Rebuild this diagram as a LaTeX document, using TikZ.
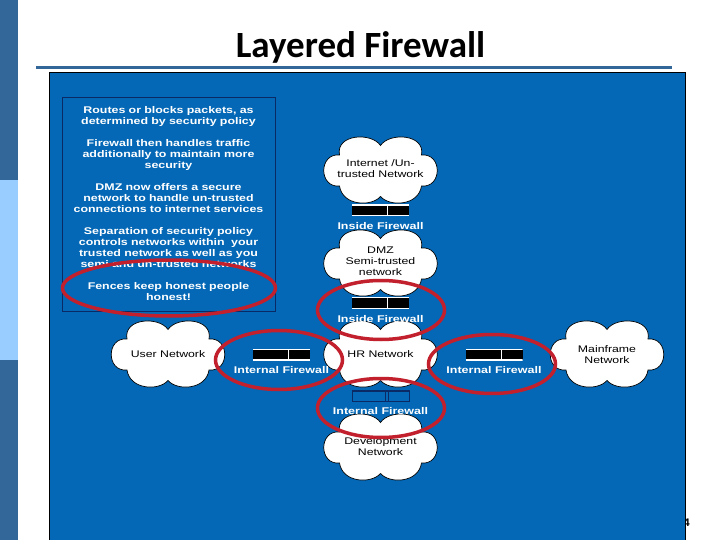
\documentclass[tikz,border=0pt]{standalone}
\usepackage{fontspec}
\setmainfont{Liberation Sans}
\newfontfamily\titlefont{Carlito}
\newfontfamily\widefont[FakeStretch=1.28]{Liberation Sans}
\usepackage{xcolor}
\usetikzlibrary{positioning,shapes.geometric}
\definecolor{slideblue}{HTML}{0468B6}
\definecolor{sidedark}{HTML}{336699}
\definecolor{sidelight}{HTML}{99CCFF}
\definecolor{ringred}{HTML}{C2202C}
\definecolor{boxnavy}{HTML}{0A2A66}

\begin{document}
\begin{tikzpicture}[
    x=1pt, y=-1pt,
    node distance=3pt,
    pics/puff/.style={code={
        \draw[black, fill=white, line width=0.7pt] (-41,16)
            .. controls (-62,18) and (-62,-17) .. (-41,-15)
            .. controls (-45,-36) and (-9,-38) .. (0,-24.5)
            .. controls (9,-38) and (45,-36) .. (41,-15)
            .. controls (62,-17) and (62,18) .. (41,16)
            .. controls (38,36) and (9,37) .. (0,26.5)
            .. controls (-9,37) and (-38,36) .. cycle;
    }},
    net/.style={inner sep=0pt, align=center, font=\widefont\fontsize{9.6}{11}\selectfont},
    fwbar/.style={fill=black, minimum width=57pt, minimum height=11pt, inner sep=0pt,
        path picture={\draw[white, line width=1pt] ([xshift=7pt]path picture bounding box.south) -- ([xshift=7pt]path picture bounding box.north);
            \draw[white, line width=1.6pt] (path picture bounding box.north west) -- (path picture bounding box.north east);
            \draw[white, line width=1.6pt] (path picture bounding box.south west) -- (path picture bounding box.south east);}},
    fwopen/.style={draw=boxnavy, line width=0.8pt, fill=slideblue, minimum width=57pt, minimum height=11pt, inner sep=0pt,
        path picture={\draw[boxnavy, line width=0.8pt] ([xshift=5pt]path picture bounding box.south) -- ([xshift=5pt]path picture bounding box.north);
            \draw[boxnavy, line width=0.8pt] ([xshift=8pt]path picture bounding box.south) -- ([xshift=8pt]path picture bounding box.north);
            \draw[boxnavy, line width=2.4pt] (path picture bounding box.north west) -- (path picture bounding box.north east);
            \draw[boxnavy, line width=1.6pt] (path picture bounding box.south west) -- (path picture bounding box.south east);}},
    fwlbl/.style={text=white, font=\widefont\bfseries\fontsize{9.75}{11}\selectfont},
    notes/.style={draw=boxnavy, line width=0.7pt, fill=slideblue, text=white, align=center, text width=208pt, inner sep=0pt,
        minimum width=213pt, minimum height=214pt, font=\widefont\bfseries\fontsize{9.7}{11}\selectfont},
    ring/.style={ellipse, draw=ringred, line width=3.5pt, inner sep=0pt, minimum width=127pt, minimum height=59pt}
]
\useasboundingbox (0,0) rectangle (720,540);
\fill[white] (0,0) rectangle (720,540);

% Side bar
\fill[sidedark] (0,0) rectangle (18,180);
\fill[sidelight] (0,180) rectangle (18,360);
\fill[sidedark] (0,360) rectangle (18,540);

% Title
\node[font=\titlefont\fontsize{37}{40}\selectfont\bfseries] (title) at (360.5,47) {Layered Firewall};
\draw[sidedark, line width=2.6pt] (36,67.5) -- (672,67.5);

% Page number, cut by the panel
\node[font=\fontsize{11}{12}\selectfont\bfseries, anchor=east, inner sep=0pt] (page) at (690,523) {4};

% Panel
\draw[black, fill=slideblue, line width=0.8pt] (49,72) rectangle (685,541);

% Notes
\node[notes] (info) at (168.5,204) {Routes or blocks packets, as\\determined by security policy\\[11pt]
    Firewall then handles traffic\\additionally to maintain more\\security\\[11pt]
    DMZ now offers a secure\\network to handle un-trusted\\connections to internet services\\[11pt]
    Separation of security policy\\controls networks within\ \ your\\trusted network as well as you\\semi and un-trusted networks\\[11pt]
    Fences keep honest people\\honest!};

% Networks
\pic at (380.5,170) {puff};
\node[net] (inet) at (380.5,169) {Internet /Un-\\trusted Network};
\pic at (380.5,263) {puff};
\node[net] (dmz) at (380.5,261) {DMZ\\Semi-trusted\\network};
\pic at (380.5,354) {puff};
\node[net] (hr) at (380.5,354) {HR Network};
\pic at (380.5,447) {puff};
\node[net] (dev) at (380.5,446.5) {Development\\Network};
\pic at (168,354) {puff};
\node[net] (user) at (168,354) {User Network};
\pic at (607,354) {puff};
\node[net] (main) at (607,354.5) {Mainframe\\Network};

% Firewalls
\node[fwbar] (fwa) at (380.5,210.5) {};
\node[fwlbl, below=3pt of fwa] (fwatxt) {Inside Firewall};
\node[fwbar] (fwb) at (380.5,303) {};
\node[fwlbl, below=3pt of fwb] (fwbtxt) {Inside Firewall};
\node[fwbar] (fwc) at (281.5,354.5) {};
\node[fwlbl, below=3pt of fwc] (fwctxt) {Internal Firewall};
\node[fwbar] (fwd) at (494,354.5) {};
\node[fwlbl, below=3pt of fwd] (fwdtxt) {Internal Firewall};
\node[fwopen] (fwe) at (380.5,396) {};
\node[fwlbl, below=2pt of fwe] (fwetxt) {Internal Firewall};

% Highlights
\node[ring, minimum width=213pt, minimum height=56pt] (ringa) at (169,288) {};
\node[ring] (ringb) at (381,310) {};
\node[ring] (ringc) at (279,360) {};
\node[ring] (ringd) at (492,364) {};
\node[ring] (ringe) at (381,408) {};
\end{tikzpicture}
\end{document}
